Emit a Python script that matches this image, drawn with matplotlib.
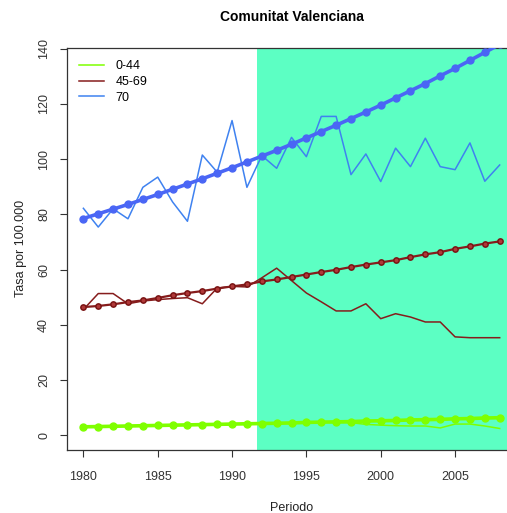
import matplotlib
matplotlib.use('Agg')
import matplotlib.pyplot as plt

plt.rcParams['font.family'] = ['Liberation Sans', 'DejaVu Sans']

years = list(range(1980, 2009))

# observed rates
green_raw = [2.9, 2.8, 3.3, 3.4, 3.3, 3.6, 3.5, 3.8, 3.9, 4.0, 3.7, 4.5, 4.3, 4.1, 4.4,
             4.7, 4.8, 4.5, 4.5, 3.9, 3.6, 3.4, 3.3, 3.3, 2.6, 4.0, 4.0, 3.3, 2.4]
brown_raw = [45.5, 51.3, 51.3, 47.6, 48.6, 49.1, 49.5, 49.8, 47.6, 53.3, 53.9, 53.7, 57.0, 60.5, 56.0,
             51.5, 48.3, 45.0, 45.0, 47.6, 42.2, 44.0, 42.8, 41.0, 41.0, 35.6, 35.3, 35.3, 35.3]
blue_raw = [82.2, 75.4, 82.0, 78.4, 89.8, 93.5, 84.5, 77.5, 101.5, 95.3, 114.0, 89.8, 101.3, 96.7, 107.9,
            100.9, 115.5, 115.5, 94.4, 101.9, 91.9, 104.0, 97.3, 107.6, 97.3, 96.2, 105.9, 92.0, 97.9]

# fitted trends
green_fit = [3.0, 3.1, 3.2, 3.3, 3.4, 3.5, 3.6, 3.7, 3.8, 3.9, 4.0, 4.1, 4.2, 4.3, 4.4,
             4.6, 4.7, 4.8, 4.9, 5.1, 5.2, 5.3, 5.5, 5.6, 5.7, 5.9, 6.0, 6.2, 6.3]
brown_fit = [46.4, 46.8, 47.4, 48.2, 48.8, 49.7, 50.7, 51.5, 52.2, 53.1, 53.9, 54.6, 55.7, 56.4, 57.3,
             58.2, 59.1, 59.9, 60.9, 61.8, 62.6, 63.4, 64.5, 65.5, 66.3, 67.5, 68.4, 69.4, 70.2]
blue_fit = [78.5, 80.2, 81.9, 83.6, 85.4, 87.2, 89.1, 91.0, 92.9, 94.9, 96.9, 99.0, 101.1, 103.2, 105.4,
            107.7, 110.0, 112.3, 114.7, 117.1, 119.6, 122.2, 124.8, 127.4, 130.2, 132.9, 135.8, 138.7, 141.6]

labels = ['0-44', '45-69', '70']
shade_start = 1991.7

c_green = '#7fff00'
c_brown = '#861c1c'
c_blue_raw = '#3f82f0'
c_blue_fit = '#4a66f5'

fig = plt.figure(figsize=(5.07, 5.13), dpi=100)
ax = fig.add_axes([0.1316, 0.1228, 0.8868, 0.7842])

ax.axvspan(shade_start, 2012, color='#5cffc3', lw=0, zorder=0)

# fitted lines with points
ax.plot(years, green_fit, color=c_green, lw=2.6, marker='o', ms=5, zorder=3)
ax.plot(years, brown_fit, color=c_brown, lw=1.6, marker='o', ms=3.8,
        mfc='#b03838', mec='#7a1414', mew=1.1, zorder=3)
ax.plot(years, blue_fit, color=c_blue_fit, lw=2.6, marker='o', ms=5, zorder=3)

# observed lines
ax.plot(years, green_raw, color=c_green, lw=1.1, label=labels[0], zorder=2)
ax.plot(years, brown_raw, color=c_brown, lw=1.1, label=labels[1], zorder=2)
ax.plot(years, blue_raw, color=c_blue_raw, lw=1.1, label=labels[2], zorder=2)

ax.set_xlim(1978.88, 2009.12)
ax.set_ylim(-5.4, 140.4)
ax.set_xticks([1980, 1985, 1990, 1995, 2000, 2005])
ax.set_yticks([0, 20, 40, 60, 80, 100, 120, 140])
ax.tick_params(direction='out', length=5, width=0.8, colors='#333333', labelsize=9)
ax.tick_params(axis='x', pad=10)
ax.tick_params(axis='y', pad=7)
for lab in ax.get_yticklabels():
    lab.set_rotation(90)
    lab.set_va('center')
for sp in ax.spines.values():
    sp.set_color('#333333')
    sp.set_linewidth(0.9)

ax.set_title('Comunitat Valenciana', fontsize=10, fontweight='bold', pad=19)
ax.set_xlabel('Periodo', fontsize=9, labelpad=14, color='#222222')
ax.set_ylabel('Tasa por 100.000', fontsize=9, labelpad=8, color='#222222')

ax.legend(loc='upper left', frameon=False, fontsize=9, handlelength=2.0,
          handletextpad=0.9, labelspacing=0.3, borderaxespad=0.6)

fig.savefig('out.png', dpi=100)
